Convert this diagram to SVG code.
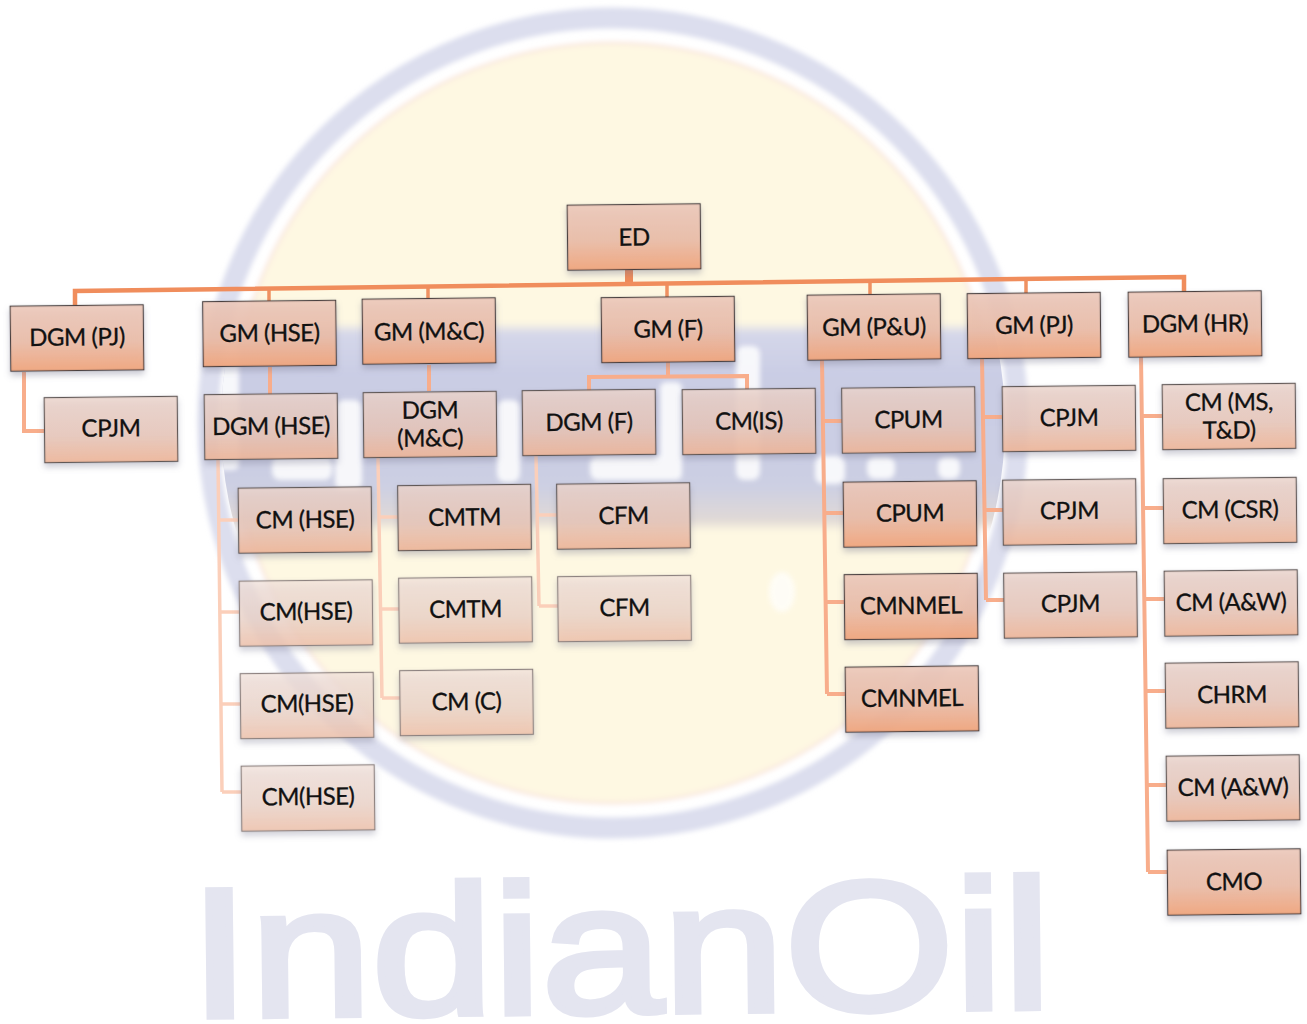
<svg xmlns="http://www.w3.org/2000/svg" width="1307" height="1024" viewBox="0 0 1307 1024">
<style>
.t{font-family:Lato,"Liberation Sans",sans-serif;font-size:24px;letter-spacing:-.5px;fill:#111;stroke:#111;stroke-width:.3;text-anchor:middle}
.b{stroke-width:1.2;filter:url(#sh)}
.n1 .b{fill:url(#g1);stroke:#4a4040}
.n2 .b{fill:url(#g2);stroke:#5f5654}
.n3 .b{fill:url(#g3);stroke:#8d8280}
.bus{fill:none;stroke:#f08d5c;stroke-width:4.5}
.drop{fill:none;stroke:#ef9161;stroke-width:3.5}
.sub{fill:none;stroke:#f8ad8b;stroke-width:4}
.pale{fill:none;stroke:#fbcfba;stroke-width:3.5}
.wl{fill:#fff}
</style>
<defs>
<linearGradient id="g1" x1="0" y1="0" x2="0" y2="1"><stop offset="0" stop-color="#edc9bb" stop-opacity=".9"/><stop offset=".55" stop-color="#ebbda8" stop-opacity=".9"/><stop offset="1" stop-color="#f1a67e" stop-opacity=".95"/></linearGradient>
<linearGradient id="g2" x1="0" y1="0" x2="0" y2="1"><stop offset="0" stop-color="#ebd4cc" stop-opacity=".82"/><stop offset=".6" stop-color="#e9c6b8" stop-opacity=".82"/><stop offset="1" stop-color="#f0b698" stop-opacity=".88"/></linearGradient>
<linearGradient id="g3" x1="0" y1="0" x2="0" y2="1"><stop offset="0" stop-color="#f3e3dc" stop-opacity=".75"/><stop offset=".6" stop-color="#efd5c8" stop-opacity=".75"/><stop offset="1" stop-color="#f2c4ac" stop-opacity=".82"/></linearGradient>
<linearGradient id="bandg" x1="0" y1="0" x2="0" y2="1"><stop offset="0" stop-color="#d6d8ea"/><stop offset=".25" stop-color="#c9cce4"/><stop offset=".8" stop-color="#cccfe3"/><stop offset="1" stop-color="#e4dbd4"/></linearGradient>
<filter id="sh" x="-10%" y="-15%" width="120%" height="140%"><feDropShadow dx="0" dy="4" stdDeviation="3" flood-color="#77778f" flood-opacity=".4"/></filter>
<filter id="bl" x="-20%" y="-20%" width="140%" height="140%"><feGaussianBlur stdDeviation="5"/></filter>
<filter id="bl2" x="-10%" y="-10%" width="120%" height="120%"><feGaussianBlur stdDeviation="2.5"/></filter>
<clipPath id="disc"><circle cx="613" cy="423" r="392"/></clipPath>
</defs>
<rect width="1307" height="1024" fill="#fff"/>
<g id="watermark">
<g filter="url(#bl2)">
<circle cx="613" cy="423" r="380" fill="#fef8e2" stroke="#f9e6dd" stroke-width="3"/>
<circle cx="613" cy="423" r="405" fill="none" stroke="#dcdeee" stroke-width="21"/>
</g>
<g clip-path="url(#disc)">
<rect x="200" y="328" width="830" height="198" fill="url(#bandg)" filter="url(#bl)"/>
<g filter="url(#bl2)" opacity=".85">
<rect class="wl" x="217" y="345" width="22" height="125" rx="6"/>
<rect class="wl" x="272" y="456" width="60" height="24" rx="8"/>
<rect class="wl" x="335" y="400" width="27" height="90" rx="8"/>
<rect class="wl" x="497" y="400" width="23" height="82" rx="8"/>
<rect class="wl" x="590" y="456" width="92" height="24" rx="8"/>
<rect class="wl" x="660" y="382" width="22" height="98" rx="6"/>
<rect class="wl" x="736" y="346" width="24" height="134" rx="8"/>
<rect class="wl" x="815" y="456" width="30" height="28" rx="8"/>
<rect class="wl" x="867" y="457" width="28" height="22" rx="8"/>
<rect class="wl" x="938" y="457" width="22" height="22" rx="8"/>
</g>
</g>
<ellipse cx="782" cy="592" rx="13" ry="20" fill="#fff" opacity=".7" filter="url(#bl2)"/>
<text id="wordmark" x="190" y="1017" transform="rotate(-.6 190 1017)" font-family="'Liberation Sans',Arial,sans-serif" font-size="184" textLength="862" lengthAdjust="spacingAndGlyphs" fill="#e4e5f0" stroke="#e4e5f0" stroke-width="6">IndianOil</text>
</g>
<g id="connectors">
<path class="sub" d="M24 372V431H44"/>
<path class="sub" d="M270 367V395"/>
<path class="sub" d="M429 365V391"/>
<path class="sub" d="M668 362V376M589 391V377L747 376V390"/>
<path class="pale" d="M218 460L222 792M220 520H239M221 612H240M221 704H241M222 792H242"/>
<path class="pale" d="M378 458L382 698M379 517H398M380 609H399M382 698H400"/>
<path class="pale" d="M536 456L539 606M537 515H557M539 606H558"/>
<path class="sub" d="M822 360L827 694M824 421H842M825 513H843M826 602H844M827 694H845"/>
<path class="sub" d="M982 358L986 600M983 417H1002M984 510H1003M986 600H1004"/>
<path class="sub" d="M1141 357L1148 872M1142 416H1162M1143 508H1163M1145 599H1164M1146 691H1165M1147 785H1166M1148 872H1167"/>
<path d="M629 270V284" fill="none" stroke="#ee8a58" stroke-width="8"/>
<path class="drop" d="M269 289V301M428 287V299M667 283V298M870 281V295M1026 279V293"/>
<path class="bus" d="M75 305V291L1184 277V292"/>
</g>
<g id="nodes">
<g id="n-ed" class="n1" transform="translate(634 237) rotate(-.6)"><rect class="b" x="-66.5" y="-32.5" width="133" height="65"/><text class="t" y="8.5">ED</text></g>
<g id="n-dgm-pj" class="n1" transform="translate(77 338) rotate(-.6)"><rect class="b" x="-66.5" y="-32.5" width="133" height="65"/><text class="t" y="7.5">DGM (PJ)</text></g>
<g id="n-cpjm-0" class="n2" transform="translate(111 429.5) rotate(-.6)"><rect class="b" x="-66.5" y="-32.5" width="133" height="65"/><text class="t" y="7">CPJM</text></g>
<g id="n-gm-hse" class="n1" transform="translate(269.5 333.5) rotate(-.6)"><rect class="b" x="-66.5" y="-32.5" width="133" height="65"/><text class="t" y="8">GM (HSE)</text></g>
<g id="n-dgm-hse" class="n2" transform="translate(271 426.5) rotate(-.6)"><rect class="b" x="-66.5" y="-32.5" width="133" height="65"/><text class="t" y="8">DGM (HSE)</text></g>
<g id="n-cm-hse-1" class="n2" transform="translate(305 520) rotate(-.6)"><rect class="b" x="-66.5" y="-32.5" width="133" height="65"/><text class="t" y="8">CM (HSE)</text></g>
<g id="n-cm-hse-2" class="n3" transform="translate(306 613) rotate(-.6)"><rect class="b" x="-66.5" y="-32.5" width="133" height="65"/><text class="t" y="7">CM(HSE)</text></g>
<g id="n-cm-hse-3" class="n3" transform="translate(307 705.5) rotate(-.6)"><rect class="b" x="-66.5" y="-32.5" width="133" height="65"/><text class="t" y="6.5">CM(HSE)</text></g>
<g id="n-cm-hse-4" class="n3" transform="translate(308 798) rotate(-.6)"><rect class="b" x="-66.5" y="-32.5" width="133" height="65"/><text class="t" y="7">CM(HSE)</text></g>
<g id="n-gm-mc" class="n1" transform="translate(429 331) rotate(-.6)"><rect class="b" x="-66.5" y="-32.5" width="133" height="65"/><text class="t" y="9">GM (M&amp;C)</text></g>
<g id="n-dgm-mc" class="n2" transform="translate(430 424.5) rotate(-.6)"><rect class="b" x="-66.5" y="-32.5" width="133" height="65"/><text class="t" y="-6">DGM</text><text class="t" y="22">(M&amp;C)</text></g>
<g id="n-cmtm-1" class="n2" transform="translate(464.5 517.5) rotate(-.6)"><rect class="b" x="-66.5" y="-32.5" width="133" height="65"/><text class="t" y="8">CMTM</text></g>
<g id="n-cmtm-2" class="n3" transform="translate(465.5 610) rotate(-.6)"><rect class="b" x="-66.5" y="-32.5" width="133" height="65"/><text class="t" y="7.5">CMTM</text></g>
<g id="n-cm-c" class="n3" transform="translate(466.5 702.5) rotate(-.6)"><rect class="b" x="-66.5" y="-32.5" width="133" height="65"/><text class="t" y="7.5">CM (C)</text></g>
<g id="n-gm-f" class="n1" transform="translate(668 329.5) rotate(-.6)"><rect class="b" x="-66.5" y="-32.5" width="133" height="65"/><text class="t" y="8">GM (F)</text></g>
<g id="n-dgm-f" class="n2" transform="translate(589 422.5) rotate(-.6)"><rect class="b" x="-66.5" y="-32.5" width="133" height="65"/><text class="t" y="8">DGM (F)</text></g>
<g id="n-cm-is" class="n2" transform="translate(749 421.5) rotate(-.6)"><rect class="b" x="-66.5" y="-32.5" width="133" height="65"/><text class="t" y="8">CM(IS)</text></g>
<g id="n-cfm-1" class="n2" transform="translate(623.5 516) rotate(-.6)"><rect class="b" x="-66.5" y="-32.5" width="133" height="65"/><text class="t" y="8">CFM</text></g>
<g id="n-cfm-2" class="n3" transform="translate(624.5 608.5) rotate(-.6)"><rect class="b" x="-66.5" y="-32.5" width="133" height="65"/><text class="t" y="7.5">CFM</text></g>
<g id="n-gm-pu" class="n1" transform="translate(874 327) rotate(-.6)"><rect class="b" x="-66.5" y="-32.5" width="133" height="65"/><text class="t" y="8.5">GM (P&amp;U)</text></g>
<g id="n-cpum-1" class="n2" transform="translate(908.5 420) rotate(-.6)"><rect class="b" x="-66.5" y="-32.5" width="133" height="65"/><text class="t" y="8">CPUM</text></g>
<g id="n-cpum-2" class="n1" transform="translate(910 514) rotate(-.6)"><rect class="b" x="-66.5" y="-32.5" width="133" height="65"/><text class="t" y="7.5">CPUM</text></g>
<g id="n-cmnmel-1" class="n1" transform="translate(911 606.5) rotate(-.6)"><rect class="b" x="-66.5" y="-32.5" width="133" height="65"/><text class="t" y="7.5">CMNMEL</text></g>
<g id="n-cmnmel-2" class="n1" transform="translate(912 699) rotate(-.6)"><rect class="b" x="-66.5" y="-32.5" width="133" height="65"/><text class="t" y="7.5">CMNMEL</text></g>
<g id="n-gm-pj" class="n1" transform="translate(1034 325.5) rotate(-.6)"><rect class="b" x="-66.5" y="-32.5" width="133" height="65"/><text class="t" y="8">GM (PJ)</text></g>
<g id="n-cpjm-1" class="n2" transform="translate(1069 418.5) rotate(-.6)"><rect class="b" x="-66.5" y="-32.5" width="133" height="65"/><text class="t" y="7.5">CPJM</text></g>
<g id="n-cpjm-2" class="n2" transform="translate(1069.5 512) rotate(-.6)"><rect class="b" x="-66.5" y="-32.5" width="133" height="65"/><text class="t" y="7">CPJM</text></g>
<g id="n-cpjm-3" class="n2" transform="translate(1070.5 605) rotate(-.6)"><rect class="b" x="-66.5" y="-32.5" width="133" height="65"/><text class="t" y="7">CPJM</text></g>
<g id="n-dgm-hr" class="n1" transform="translate(1195 324) rotate(-.6)"><rect class="b" x="-66.5" y="-32.5" width="133" height="65"/><text class="t" y="8">DGM (HR)</text></g>
<g id="n-cm-ms" class="n2" transform="translate(1229 416.5) rotate(-.6)"><rect class="b" x="-66.5" y="-32.5" width="133" height="65"/><text class="t" y="-6">CM (MS,</text><text class="t" y="22">T&amp;D)</text></g>
<g id="n-cm-csr" class="n2" transform="translate(1230 510.5) rotate(-.6)"><rect class="b" x="-66.5" y="-32.5" width="133" height="65"/><text class="t" y="7.5">CM (CSR)</text></g>
<g id="n-cm-aw-1" class="n2" transform="translate(1231 603) rotate(-.6)"><rect class="b" x="-66.5" y="-32.5" width="133" height="65"/><text class="t" y="7.5">CM (A&amp;W)</text></g>
<g id="n-chrm" class="n2" transform="translate(1232 695) rotate(-.6)"><rect class="b" x="-66.5" y="-32.5" width="133" height="65"/><text class="t" y="8">CHRM</text></g>
<g id="n-cm-aw-2" class="n2" transform="translate(1233 788) rotate(-.6)"><rect class="b" x="-66.5" y="-32.5" width="133" height="65"/><text class="t" y="7.5">CM (A&amp;W)</text></g>
<g id="n-cmo" class="n1" transform="translate(1234 882) rotate(-.6)"><rect class="b" x="-66.5" y="-32.5" width="133" height="65"/><text class="t" y="8">CMO</text></g>
</g>
</svg>
